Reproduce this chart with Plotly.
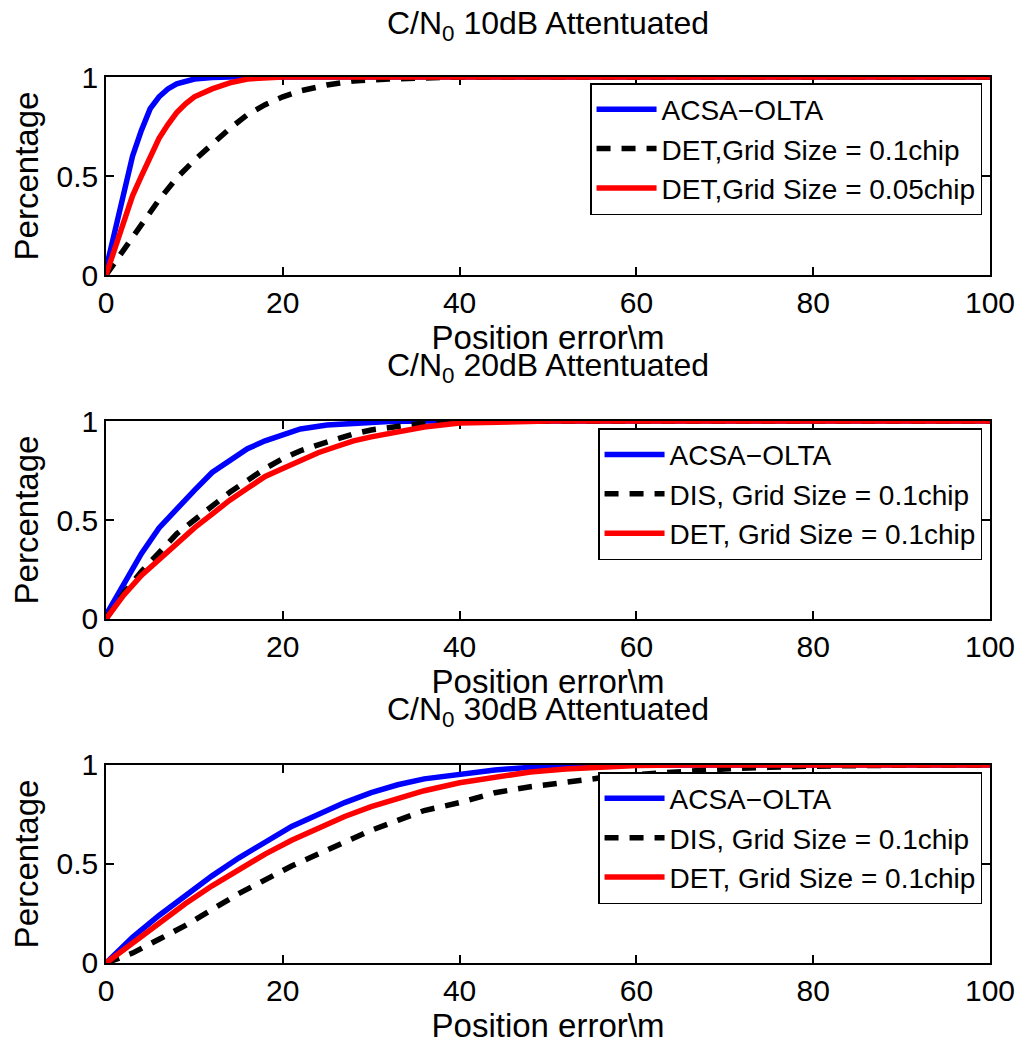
import plotly.graph_objs as go
from plotly.subplots import make_subplots

# x ticks and titles
x_ticks = [0, 20, 40, 60, 80, 100]
y_ticks = [0, 0.5, 1]
titles = ['C/N<sub>0</sub> 10dB Attentuated',
          'C/N<sub>0</sub> 20dB Attentuated',
          'C/N<sub>0</sub> 30dB Attentuated']

# --- 10dB ---
x10_acsa = [0, 1, 2, 3, 4, 5, 6, 7, 8, 9, 10, 12, 14, 100]
y10_acsa = [0.03, 0.22, 0.42, 0.6, 0.73, 0.84, 0.9, 0.94, 0.965, 0.98, 0.99, 0.997, 1.0, 1.0]
x10_det1 = [0, 2, 4, 6, 8, 10, 12, 14, 16, 18, 20, 22, 25, 28, 32, 36, 40, 100]
y10_det1 = [0, 0.13, 0.25, 0.38, 0.49, 0.58, 0.66, 0.74, 0.81, 0.86, 0.9, 0.93, 0.96, 0.98, 0.99, 0.996, 1.0, 1.0]
x10_det05 = [0, 1, 2, 3, 4, 5, 6, 7, 8, 9, 10, 12, 14, 16, 18, 20, 100]
y10_det05 = [0, 0.14, 0.28, 0.4, 0.5, 0.6, 0.69, 0.76, 0.82, 0.865, 0.9, 0.94, 0.97, 0.99, 0.997, 1.0, 1.0]

# --- 20dB ---
x20_acsa = [0, 2, 4, 6, 8, 10, 12, 14, 16, 18, 20, 22, 25, 28, 32, 36, 100]
y20_acsa = [0.02, 0.17, 0.33, 0.46, 0.56, 0.65, 0.74, 0.8, 0.86, 0.9, 0.93, 0.96, 0.98, 0.99, 0.998, 1.0, 1.0]
x20_dis = [0, 2, 4, 6, 8, 10, 12, 14, 16, 18, 20, 22, 24, 26, 28, 30, 33, 36, 40, 100]
y20_dis = [0, 0.13, 0.24, 0.34, 0.43, 0.5, 0.57, 0.64, 0.7, 0.76, 0.81, 0.85, 0.88, 0.91, 0.935, 0.955, 0.975, 0.99, 1.0, 1.0]
x20_det = [0, 2, 4, 6, 8, 10, 12, 14, 16, 18, 20, 22, 24, 26, 28, 30, 33, 36, 40, 45, 50, 100]
y20_det = [0, 0.12, 0.22, 0.3, 0.38, 0.46, 0.53, 0.6, 0.66, 0.72, 0.76, 0.8, 0.84, 0.87, 0.9, 0.92, 0.945, 0.97, 0.99, 0.998, 1.0, 1.0]

# --- 30dB ---
x30_acsa = [0, 3, 6, 9, 12, 15, 18, 21, 24, 27, 30, 33, 36, 40, 44, 48, 52, 56, 60, 100]
y30_acsa = [0, 0.13, 0.24, 0.34, 0.44, 0.53, 0.61, 0.69, 0.75, 0.81, 0.86, 0.9, 0.93, 0.955, 0.975, 0.988, 0.995, 0.999, 1.0, 1.0]
x30_dis = [0, 3, 6, 9, 12, 15, 18, 21, 24, 27, 30, 33, 36, 40, 44, 48, 52, 56, 60, 65, 70, 75, 80, 90, 100]
y30_dis = [0, 0.05, 0.12, 0.19, 0.27, 0.35, 0.42, 0.49, 0.55, 0.61, 0.67, 0.72, 0.77, 0.81, 0.86, 0.89, 0.915, 0.935, 0.952, 0.968, 0.98, 0.988, 0.994, 0.999, 1.0]
x30_det = [0, 3, 6, 9, 12, 15, 18, 21, 24, 27, 30, 33, 36, 40, 44, 48, 52, 56, 60, 65, 100]
y30_det = [0, 0.1, 0.2, 0.3, 0.39, 0.47, 0.55, 0.62, 0.68, 0.74, 0.79, 0.83, 0.87, 0.91, 0.94, 0.965, 0.98, 0.99, 0.997, 1.0, 1.0]

font = 'Liberation Sans, Arial, sans-serif'
blue = '#0000ff'
red = '#ff0000'
dash = '14px,11px'

fig = make_subplots(rows=3, cols=1, vertical_spacing=0.165)

panels = [
    (1, 'legend', [(x10_acsa, y10_acsa, 'ACSA\u2212OLTA', blue, 'solid'),
                   (x10_det1, y10_det1, 'DET,Grid Size = 0.1chip', 'black', dash),
                   (x10_det05, y10_det05, 'DET,Grid Size = 0.05chip', red, 'solid')]),
    (2, 'legend2', [(x20_acsa, y20_acsa, 'ACSA\u2212OLTA', blue, 'solid'),
                    (x20_dis, y20_dis, 'DIS, Grid Size = 0.1chip', 'black', dash),
                    (x20_det, y20_det, 'DET, Grid Size = 0.1chip', red, 'solid')]),
    (3, 'legend3', [(x30_acsa, y30_acsa, 'ACSA\u2212OLTA', blue, 'solid'),
                    (x30_dis, y30_dis, 'DIS, Grid Size = 0.1chip', 'black', dash),
                    (x30_det, y30_det, 'DET, Grid Size = 0.1chip', red, 'solid')]),
]

for row, leg, series in panels:
    for xs, ys, name, color, d in series:
        fig.add_trace(go.Scatter(x=xs, y=ys, mode='lines', name=name,
                                 line=dict(color=color, width=5.5, dash=d),
                                 legend=leg),
                      row=row, col=1)

axis_style = dict(showgrid=False, zeroline=False, showline=True, mirror='ticks',
                  linecolor='black', linewidth=1.5, ticks='inside', ticklen=8,
                  tickwidth=1.5, tickcolor='black', layer='below traces',
                  automargin=False,
                  tickfont=dict(size=30, color='black', family=font))

for row in range(1, 4):
    fig.update_xaxes(axis_style, range=[0, 100], tickvals=x_ticks,
                     title=dict(text='Position error\\m', standoff=3,
                                font=dict(size=33, color='black', family=font)),
                     row=row, col=1)
    fig.update_yaxes(axis_style, range=[0, 1], tickvals=y_ticks,
                     ticktext=['0', '0.5', '1'],
                     title=dict(text='Percentage', standoff=8,
                                font=dict(size=33, color='black', family=font)),
                     row=row, col=1)

# subplot domains
fig.update_layout(
    yaxis=dict(domain=[0.7765, 1.0]),
    yaxis2=dict(domain=[0.3883, 0.6117]),
    yaxis3=dict(domain=[0.0, 0.2235]),
)

leg_style = dict(xanchor='right', yanchor='top', bgcolor='white',
                 bordercolor='black', borderwidth=1.5,
                 font=dict(size=28, color='black', family=font),
                 tracegroupgap=0, itemwidth=60)
fig.update_layout(
    legend=dict(leg_style, x=0.991, y=0.9932),
    legend2=dict(leg_style, x=0.991, y=0.6036),
    legend3=dict(leg_style, x=0.991, y=0.2155),
)

title_y = [1.0576, 0.6716, 0.2833]
for t, ty in zip(titles, title_y):
    fig.add_annotation(text=t, x=0.5, y=ty, xref='paper', yref='paper',
                       xanchor='center', yanchor='middle', showarrow=False,
                       font=dict(size=32, color='black', family=font))

fig.update_layout(width=1024, height=1048, plot_bgcolor='white',
                  paper_bgcolor='white', showlegend=True,
                  margin=dict(l=106, r=34, t=77, b=85))

# drop the default page margin so the figure sits at the top-left corner
fig.write_html("out.html", config={'displayModeBar': False},
               post_script="document.body.style.margin='0';")
